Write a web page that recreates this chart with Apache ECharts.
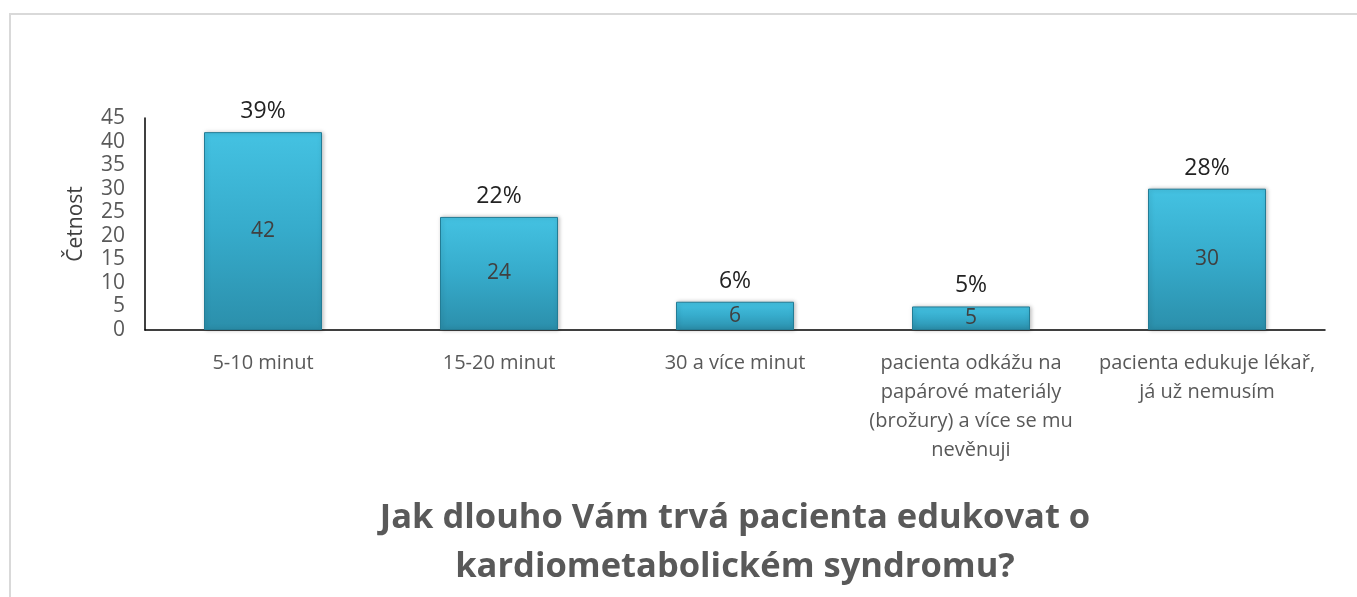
<!DOCTYPE html>
<html>
<head>
<meta charset="utf-8">
<script src="https://cdn.jsdelivr.net/npm/echarts@6/dist/echarts.min.js"></script>
<style>
  html, body { margin: 0; padding: 0; background: #fff; }
  #main { width: 1357px; height: 597px; }
  .frame { position: absolute; left: 9px; top: 13px; right: 0; bottom: 0;
           border-left: 2px solid #d9d9d9; border-top: 2px solid #d9d9d9; pointer-events: none; }
</style>
</head>
<body>
<div id="main"></div>
<div class="frame"></div>
<script>
// data
var categories = [
  '5-10 minut',
  '15-20 minut',
  '30 a více minut',
  'pacienta odkážu na\npapárové materiály\n(brožury) a více se mu\nnevěnuji',
  'pacienta edukuje lékař,\njá už nemusím'
];
var counts = [42, 24, 6, 5, 30];
var percents = ['39%', '22%', '6%', '5%', '28%'];
var yTicks = [0, 5, 10, 15, 20, 25, 30, 35, 40, 45];

var chart = echarts.init(document.getElementById('main'));

var font = '"Open Sans", sans-serif';

var option = {
  animation: false,
  textStyle: { fontFamily: font },
  grid: { left: 145, right: 32, top: 118, bottom: 267 },
  graphic: [{
    type: 'text',
    x: 735,
    y: 494,
    style: {
      text: 'Jak dlouho Vám trvá pacienta edukovat o\nkardiometabolickém syndromu?',
      textAlign: 'center',
      font: 'bold 34.5px ' + font,
      lineHeight: 49,
      fill: '#595959'
    }
  }],
  xAxis: {
    type: 'category',
    data: categories,
    axisLine: { lineStyle: { color: '#000', width: 1.5 } },
    axisTick: { show: false },
    axisLabel: { color: '#595959', fontSize: 20, lineHeight: 29, margin: 19, interval: 0 }
  },
  yAxis: {
    type: 'value',
    min: yTicks[0],
    max: yTicks[yTicks.length - 1],
    interval: 5,
    name: 'Četnost',
    nameLocation: 'middle',
    nameRotate: 90,
    nameGap: 58,
    nameTextStyle: { color: '#404040', fontSize: 21 },
    axisLine: { show: true, lineStyle: { color: '#000', width: 1.5 } },
    axisTick: { show: false },
    splitLine: { show: false },
    axisLabel: { color: '#595959', fontSize: 21, margin: 20 }
  },
  series: [
    {
      type: 'bar',
      data: counts,
      barWidth: '50%',
      z: 3,
      itemStyle: {
        color: new echarts.graphic.LinearGradient(0, 0, 0, 1, [
          { offset: 0, color: '#44c2e2' },
          { offset: 0.5, color: '#36abcb' },
          { offset: 1, color: '#2b8fab' }
        ]),
        borderColor: '#237c95',
        borderWidth: 1,
        shadowColor: 'rgba(0,0,0,0.25)',
        shadowBlur: 4,
        shadowOffsetX: 1,
        shadowOffsetY: 0
      },
      label: {
        show: true,
        position: 'inside',
        color: '#404040',
        fontSize: 21
      }
    },
    {
      type: 'bar',
      data: counts,
      barWidth: '50%',
      barGap: '-100%',
      z: 1,
      silent: true,
      itemStyle: { color: 'rgba(0,0,0,0)' },
      label: {
        show: true,
        position: 'top',
        distance: 9,
        color: '#222',
        fontSize: 23,
        formatter: function (p) { return percents[p.dataIndex]; }
      }
    }
  ]
};

chart.setOption(option);
</script>
</body>
</html>
